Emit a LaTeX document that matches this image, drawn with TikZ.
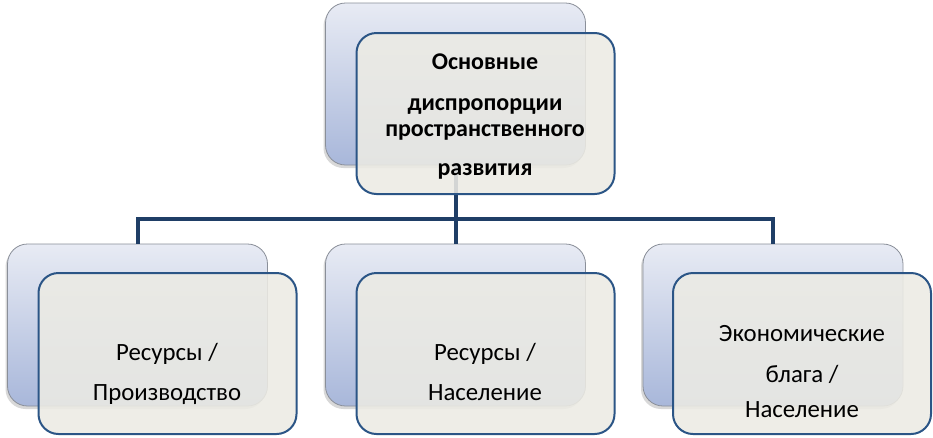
\documentclass[tikz,border=0pt]{standalone}
\usepackage{fontspec}
\setmainfont{Carlito}
\usetikzlibrary{shadows}
\definecolor{connc}{HTML}{1F3E66}
\definecolor{frontdraw}{HTML}{2B5586}
\definecolor{frontfill}{HTML}{ECEBE4}
\definecolor{backtop}{HTML}{E8EBF4}
\definecolor{backbot}{HTML}{A8B7DA}
\definecolor{backdraw}{HTML}{8A8F99}
\begin{document}
\begin{tikzpicture}[x=1pt,y=-1pt,
 backbox/.style={draw=backdraw, line width=0.8pt, rounded corners=20pt, top color=backtop, bottom color=backbot,
   minimum width=260pt, minimum height=162pt, inner sep=0pt,
   drop shadow={shadow xshift=-2pt, shadow yshift=-3pt, opacity=0.3}},
 frontbox/.style={draw=frontdraw, line width=2pt, rounded corners=20pt, fill=frontfill, fill opacity=0.88,
   minimum width=258pt, minimum height=161pt, inner sep=0pt},
 connline/.style={draw=connc, line width=4pt},
 lbl/.style={font=\fontsize{24.8}{28}\selectfont, anchor=base, inner sep=0pt},
 tlbl/.style={font=\fontsize{24}{27}\selectfont\bfseries, anchor=base, inner sep=0pt}]
\useasboundingbox (0,0) rectangle (933,437);
\fill[white] (0,0) rectangle (933,437);
% back boxes
\node[backbox] (tb) at (455.5,84) {};
% connectors
\coordinate (hub) at (455.5,219);
\node[backbox] (lb) at (137.5,325) {};
\node[backbox] (mb) at (455.5,325) {};
\node[backbox] (rb) at (773,325) {};
\draw[connline] (lb.north) |- (hub) -| (rb.north);
\draw[connline] (tb.south) -- (mb.north);
% front boxes
\node[frontbox] (tf) at (485.5,113.5) {};
\node[frontbox] (lf) at (167.5,353.5) {};
\node[frontbox] (mf) at (485.5,353.5) {};
\node[frontbox] (rf) at (802,353.5) {};
% texts
\node[tlbl] (t1) at (485,69) {Основные};
\node[tlbl] (t2) at (485,110) {диспропорции};
\node[tlbl] (t3) at (485,136) {пространственного};
\node[tlbl] (t4) at (485,175) {развития};
\node[lbl] (l1) at (167,360) {Ресурсы /};
\node[lbl] (l2) at (167,400) {Производство};
\node[lbl] (m1) at (485,360) {Ресурсы /};
\node[lbl] (m2) at (485,400) {Население};
\node[lbl] (r1) at (802,341) {Экономические};
\node[lbl] (r2) at (802,382) {блага /};
\node[lbl] (r3) at (802,417) {Население};
\end{tikzpicture}
\end{document}
